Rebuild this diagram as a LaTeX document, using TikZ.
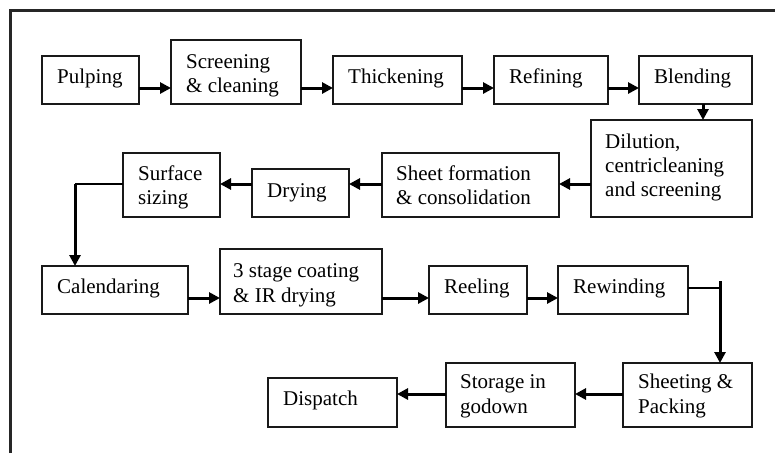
\documentclass[tikz,border=0pt]{standalone}
\usepackage{fontspec}
\setmainfont{Liberation Serif}
\usetikzlibrary{arrows.meta}
\begin{document}
\begin{tikzpicture}[x=1pt,y=-1pt,
  box/.style={draw=black!90, line width=1.2pt, anchor=north west, inner sep=0pt, outer sep=0pt},
  lbl/.style={anchor=base west, inner sep=0pt, font=\fontsize{21}{24}\selectfont},
  flow/.style={line width=3pt, -{Triangle[length=11pt,width=11pt]}},
  link/.style={line width=1.1pt}]
\useasboundingbox (0,0) rectangle (775,453);
% frame
\draw[line width=3pt, black!85] (10,453) -- (10,10) -- (775,10);
% boxes
\node[box, minimum width=97pt,  minimum height=48pt] (pulp)  at (42,56) {};
\node[box, minimum width=130pt, minimum height=64pt] (scr)   at (171,40) {};
\node[box, minimum width=129pt, minimum height=48pt] (thk)   at (333,56) {};
\node[box, minimum width=114pt, minimum height=48pt] (refn)  at (494,56) {};
\node[box, minimum width=113pt, minimum height=48pt] (blend) at (639,56) {};
\node[box, minimum width=161pt, minimum height=97pt] (dil)   at (591,120) {};
\node[box, minimum width=177pt, minimum height=64pt] (sheet) at (382,153) {};
\node[box, minimum width=97pt,  minimum height=48pt] (dry)   at (252,169) {};
\node[box, minimum width=97pt,  minimum height=64pt] (surf)  at (123,153) {};
\node[box, minimum width=146pt, minimum height=48pt] (cal)   at (42,266) {};
\node[box, minimum width=162pt, minimum height=65pt] (coat)  at (220,249) {};
\node[box, minimum width=98pt,  minimum height=48pt] (reel)  at (429,266) {};
\node[box, minimum width=130pt, minimum height=48pt] (rew)   at (558,266) {};
\node[box, minimum width=129pt, minimum height=64pt] (shp)   at (623,363) {};
\node[box, minimum width=129pt, minimum height=64pt] (stor)  at (446,363) {};
\node[box, minimum width=129pt, minimum height=49pt] (disp)  at (268,378) {};
% texts
\node[lbl] (t1)  at (57,83) {Pulping};
\node[lbl] (t2a) at (186,68) {Screening};
\node[lbl] (t2b) at (186,92) {\& cleaning};
\node[lbl] (t3)  at (348,83) {Thickening};
\node[lbl] (t4)  at (509,83) {Refining};
\node[lbl] (t5)  at (654,83) {Blending};
\node[lbl] (t6a) at (605,148) {Dilution,};
\node[lbl] (t6b) at (605,172) {centricleaning};
\node[lbl] (t6c) at (605,196) {and screening};
\node[lbl] (t7a) at (396,180) {Sheet formation};
\node[lbl] (t7b) at (396,204) {\& consolidation};
\node[lbl] (t8)  at (267,197) {Drying};
\node[lbl] (t9a) at (138,180) {Surface};
\node[lbl] (t9b) at (138,204) {sizing};
\node[lbl] (t10) at (57,293) {Calendaring};
\node[lbl] (t11a) at (233,277) {3 stage coating};
\node[lbl] (t11b) at (233,302) {\& IR drying};
\node[lbl] (t12) at (444,293) {Reeling};
\node[lbl] (t13) at (573,293) {Rewinding};
\node[lbl] (t14a) at (638,388) {Sheeting \&};
\node[lbl] (t14b) at (638,413) {Packing};
\node[lbl] (t15a) at (460,388) {Storage in};
\node[lbl] (t15b) at (460,413) {godown};
\node[lbl] (t16) at (283,405) {Dispatch};
% row 1 arrows
\draw[flow] ([yshift=16pt]pulp.south east) -- ([yshift=16pt]scr.south west);
\draw[flow] ([yshift=16pt]scr.south east) -- ([yshift=16pt]thk.south west);
\draw[flow] ([yshift=16pt]thk.south east) -- ([yshift=16pt]refn.south west);
\draw[flow] ([yshift=16pt]refn.south east) -- ([yshift=16pt]blend.south west);
\coordinate (bd) at ([xshift=7.5pt]blend.south);
\draw[flow] (bd) -- (bd |- dil.north);
% row 2 arrows
\draw[flow] ([yshift=33pt]dil.south west) -- ([yshift=33pt]sheet.south east);
\draw[flow] ([yshift=33pt]sheet.south west) -- ([yshift=33pt]dry.south east);
\draw[flow] ([yshift=33pt]dry.south west) -- ([yshift=33pt]surf.south east);
\draw[link] ([yshift=33pt]surf.south west) -- ++(-48,0) coordinate (sc);
\draw[flow] ([yshift=0.5pt]sc) -- (sc |- cal.north);
% row 3 arrows
\draw[flow] ([yshift=16pt]cal.south east) -- ([yshift=16pt]coat.south west);
\draw[flow] ([yshift=16pt]coat.south east) -- ([yshift=16pt]reel.south west);
\draw[flow] ([yshift=16pt]reel.south east) -- ([yshift=16pt]rew.south west);
\draw[link] ([yshift=26pt]rew.south east) -- ++(32,0) coordinate (rw);
\draw[flow] ([yshift=7pt]rw) -- (rw |- shp.north);
% row 4 arrows
\draw[flow] ([yshift=33pt]shp.south west) -- ([yshift=33pt]stor.south east);
\draw[flow] ([yshift=33pt]stor.south west) -- ([yshift=33pt]disp.south east);
\end{tikzpicture}
\end{document}
